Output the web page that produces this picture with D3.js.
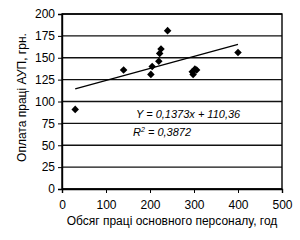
<!DOCTYPE html>
<html lang="uk">
<head>
<meta charset="UTF-8">
<script src="https://cdnjs.cloudflare.com/ajax/libs/d3/7.8.2/d3.min.js"></script>
<style>
  body { margin: 0; background: #fff; }
  svg text { font-family: "Liberation Sans Narrow", "Arial Narrow", "Liberation Sans", sans-serif; }
</style>
</head>
<body>
<div id="chart"></div>
<script>
// values
const hours = [30, 140, 202, 205, 220, 222, 225, 240, 296, 298, 302, 306, 400];
const pay   = [91, 136, 131, 140, 146, 155, 160, 181, 134, 131, 137, 136, 156];
const xTicks = [0, 100, 200, 300, 400, 500];
const yTicks = [0, 25, 50, 75, 100, 125, 150, 175, 200];
const slope = 0.1373, intercept = 110.36;
const eqText = "Y = 0,1373x + 110,36";
const r2Text = " = 0,3872";

const width = 300, height = 240;
const margin = { top: 14, right: 18, bottom: 51, left: 62 };
const w = width - margin.left - margin.right;
const h = height - margin.top - margin.bottom;

const svg = d3.select("#chart").append("svg")
    .attr("width", width)
    .attr("height", height);

const g = svg.append("g")
    .attr("transform", `translate(${margin.left},${margin.top})`);

const x = d3.scaleLinear().domain([0, 500]).range([0, w]);
const y = d3.scaleLinear().domain([0, 200]).range([h, 0]);

// horizontal gridlines
g.append("g")
    .selectAll("line")
    .data(yTicks)
    .join("line")
    .attr("x1", 0)
    .attr("x2", w)
    .attr("y1", d => y(d))
    .attr("y2", d => y(d))
    .attr("stroke", "#111")
    .attr("stroke-width", 1.4);

// plot frame
g.append("rect")
    .attr("width", w).attr("height", h)
    .attr("fill", "none")
    .attr("stroke", "#000")
    .attr("stroke-width", 1.4);

const xAxis = g.append("g")
    .attr("transform", `translate(0,${h})`)
    .call(d3.axisBottom(x).tickValues(xTicks).tickSize(4).tickPadding(7));
const yAxis = g.append("g")
    .call(d3.axisLeft(y).tickValues(yTicks).tickSize(4).tickPadding(3));

[xAxis, yAxis].forEach(a => {
    a.select(".domain").attr("stroke", "#000").attr("stroke-width", 1.4);
    a.selectAll(".tick line").attr("stroke", "#000");
    a.selectAll("text").attr("fill", "#000").style("font-size", "12px");
});

// trend line
const xs = d3.extent(hours);
g.append("line")
    .attr("x1", x(xs[0])).attr("y1", y(slope * xs[0] + intercept))
    .attr("x2", x(xs[1])).attr("y2", y(slope * xs[1] + intercept))
    .attr("stroke", "#000")
    .attr("stroke-width", 1.3);

// points
const diamond = d3.symbol().type(d3.symbolDiamond2).size(36);
g.append("g")
    .selectAll("path")
    .data(hours.map((d, i) => [d, pay[i]]))
    .enter().append("path")
    .attr("d", diamond)
    .attr("transform", d => `translate(${x(d[0])},${y(d[1])})`)
    .attr("fill", "#000");

// equation
g.append("text")
    .attr("x", 74).attr("y", 104)
    .style("font-family", "'Liberation Sans', Arial, sans-serif")
    .style("font-style", "italic")
    .style("font-size", "11px")
    .text(eqText);

const r2 = g.append("text")
    .attr("x", 71).attr("y", 122)
    .style("font-family", "'Liberation Sans', Arial, sans-serif")
    .style("font-style", "italic")
    .style("font-size", "11px");
r2.append("tspan").text("R");
r2.append("tspan").attr("dy", -4).style("font-size", "7px").text("2");
r2.append("tspan").attr("dy", 4).text(r2Text);

// axis titles
svg.append("text")
    .attr("x", margin.left + w / 2)
    .attr("y", 225)
    .attr("text-anchor", "middle")
    .style("font-size", "12px")
    .text("Обсяг праці основного персоналу, год");

svg.append("text")
    .attr("transform", `translate(26,${margin.top + h / 2 - 4}) rotate(-90)`)
    .attr("text-anchor", "middle")
    .style("font-size", "12px")
    .text("Оплата праці АУП, грн.");
</script>
</body>
</html>
